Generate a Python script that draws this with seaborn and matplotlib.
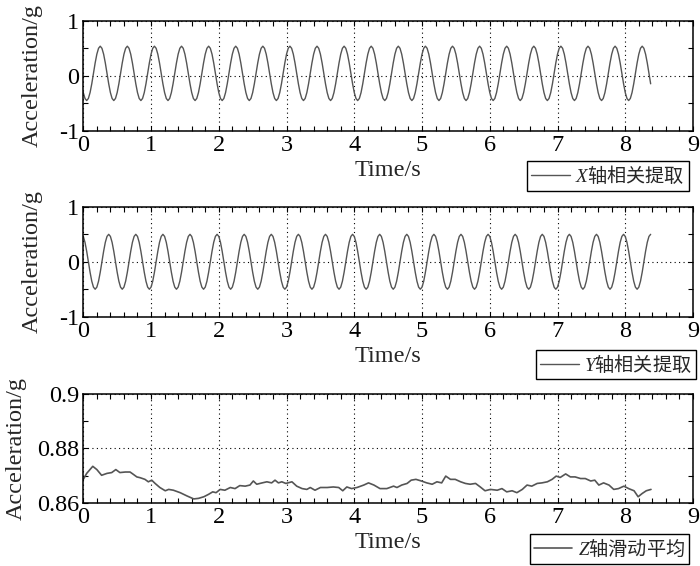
import numpy as np
import pandas as pd
import matplotlib
matplotlib.use("Agg")
import matplotlib.pyplot as plt
import seaborn as sns
from matplotlib.ticker import FixedLocator, MultipleLocator

# ---------------- data ----------------
sample_step = 0.025  # s, sampling interval of the two correlated signals

x_accel = [
    -0.305, -0.412, -0.450, -0.412, -0.305, -0.145, 0.045, 0.235, 0.395, 0.502, 0.540, 0.502, 0.395, 0.235, 0.045, -0.145,
    -0.305, -0.412, -0.450, -0.412, -0.305, -0.145, 0.045, 0.235, 0.395, 0.502, 0.540, 0.502, 0.395, 0.235, 0.045, -0.145,
    -0.305, -0.412, -0.450, -0.412, -0.305, -0.145, 0.045, 0.235, 0.395, 0.502, 0.540, 0.502, 0.395, 0.235, 0.045, -0.145,
    -0.305, -0.412, -0.450, -0.412, -0.305, -0.145, 0.045, 0.235, 0.395, 0.502, 0.540, 0.502, 0.395, 0.235, 0.045, -0.145,
    -0.305, -0.412, -0.450, -0.412, -0.305, -0.145, 0.045, 0.235, 0.395, 0.502, 0.540, 0.502, 0.395, 0.235, 0.045, -0.145,
    -0.305, -0.412, -0.450, -0.412, -0.305, -0.145, 0.045, 0.235, 0.395, 0.502, 0.540, 0.502, 0.395, 0.235, 0.045, -0.145,
    -0.305, -0.412, -0.450, -0.412, -0.305, -0.145, 0.045, 0.235, 0.395, 0.502, 0.540, 0.502, 0.395, 0.235, 0.045, -0.145,
    -0.305, -0.412, -0.450, -0.412, -0.305, -0.145, 0.045, 0.235, 0.395, 0.502, 0.540, 0.502, 0.395, 0.235, 0.045, -0.145,
    -0.305, -0.412, -0.450, -0.412, -0.305, -0.145, 0.045, 0.235, 0.395, 0.502, 0.540, 0.502, 0.395, 0.235, 0.045, -0.145,
    -0.305, -0.412, -0.450, -0.412, -0.305, -0.145, 0.045, 0.235, 0.395, 0.502, 0.540, 0.502, 0.395, 0.235, 0.045, -0.145,
    -0.305, -0.412, -0.450, -0.412, -0.305, -0.145, 0.045, 0.235, 0.395, 0.502, 0.540, 0.502, 0.395, 0.235, 0.045, -0.145,
    -0.305, -0.412, -0.450, -0.412, -0.305, -0.145, 0.045, 0.235, 0.395, 0.502, 0.540, 0.502, 0.395, 0.235, 0.045, -0.145,
    -0.305, -0.412, -0.450, -0.412, -0.305, -0.145, 0.045, 0.235, 0.395, 0.502, 0.540, 0.502, 0.395, 0.235, 0.045, -0.145,
    -0.305, -0.412, -0.450, -0.412, -0.305, -0.145, 0.045, 0.235, 0.395, 0.502, 0.540, 0.502, 0.395, 0.235, 0.045, -0.145,
    -0.305, -0.412, -0.450, -0.412, -0.305, -0.145, 0.045, 0.235, 0.395, 0.502, 0.540, 0.502, 0.395, 0.235, 0.045, -0.145,
    -0.305, -0.412, -0.450, -0.412, -0.305, -0.145, 0.045, 0.235, 0.395, 0.502, 0.540, 0.502, 0.395, 0.235, 0.045, -0.145,
    -0.305, -0.412, -0.450, -0.412, -0.305, -0.145, 0.045, 0.235, 0.395, 0.502, 0.540, 0.502, 0.395, 0.235, 0.045, -0.145,
    -0.305, -0.412, -0.450, -0.412, -0.305, -0.145, 0.045, 0.235, 0.395, 0.502, 0.540, 0.502, 0.395, 0.235, 0.045, -0.145,
    -0.305, -0.412, -0.450, -0.412, -0.305, -0.145, 0.045, 0.235, 0.395, 0.502, 0.540, 0.502, 0.395, 0.235, 0.045, -0.145,
    -0.305, -0.412, -0.450, -0.412, -0.305, -0.145, 0.045, 0.235, 0.395, 0.502, 0.540, 0.502, 0.395, 0.235, 0.045, -0.145,
    -0.305, -0.412, -0.450, -0.412, -0.305, -0.145, 0.045, 0.235, 0.395, 0.502, 0.540, 0.502, 0.395, 0.235, 0.045, -0.145,
]

y_accel = [
    0.462, 0.354, 0.191, 0.000, -0.191, -0.354, -0.462, -0.500, -0.462, -0.354, -0.191, 0.000, 0.191, 0.354, 0.462, 0.500,
    0.462, 0.354, 0.191, 0.000, -0.191, -0.354, -0.462, -0.500, -0.462, -0.354, -0.191, 0.000, 0.191, 0.354, 0.462, 0.500,
    0.462, 0.354, 0.191, 0.000, -0.191, -0.354, -0.462, -0.500, -0.462, -0.354, -0.191, 0.000, 0.191, 0.354, 0.462, 0.500,
    0.462, 0.354, 0.191, 0.000, -0.191, -0.354, -0.462, -0.500, -0.462, -0.354, -0.191, 0.000, 0.191, 0.354, 0.462, 0.500,
    0.462, 0.354, 0.191, 0.000, -0.191, -0.354, -0.462, -0.500, -0.462, -0.354, -0.191, 0.000, 0.191, 0.354, 0.462, 0.500,
    0.462, 0.354, 0.191, 0.000, -0.191, -0.354, -0.462, -0.500, -0.462, -0.354, -0.191, 0.000, 0.191, 0.354, 0.462, 0.500,
    0.462, 0.354, 0.191, 0.000, -0.191, -0.354, -0.462, -0.500, -0.462, -0.354, -0.191, 0.000, 0.191, 0.354, 0.462, 0.500,
    0.462, 0.354, 0.191, 0.000, -0.191, -0.354, -0.462, -0.500, -0.462, -0.354, -0.191, 0.000, 0.191, 0.354, 0.462, 0.500,
    0.462, 0.354, 0.191, 0.000, -0.191, -0.354, -0.462, -0.500, -0.462, -0.354, -0.191, 0.000, 0.191, 0.354, 0.462, 0.500,
    0.462, 0.354, 0.191, 0.000, -0.191, -0.354, -0.462, -0.500, -0.462, -0.354, -0.191, 0.000, 0.191, 0.354, 0.462, 0.500,
    0.462, 0.354, 0.191, 0.000, -0.191, -0.354, -0.462, -0.500, -0.462, -0.354, -0.191, 0.000, 0.191, 0.354, 0.462, 0.500,
    0.462, 0.354, 0.191, 0.000, -0.191, -0.354, -0.462, -0.500, -0.462, -0.354, -0.191, 0.000, 0.191, 0.354, 0.462, 0.500,
    0.462, 0.354, 0.191, 0.000, -0.191, -0.354, -0.462, -0.500, -0.462, -0.354, -0.191, 0.000, 0.191, 0.354, 0.462, 0.500,
    0.462, 0.354, 0.191, 0.000, -0.191, -0.354, -0.462, -0.500, -0.462, -0.354, -0.191, 0.000, 0.191, 0.354, 0.462, 0.500,
    0.462, 0.354, 0.191, 0.000, -0.191, -0.354, -0.462, -0.500, -0.462, -0.354, -0.191, 0.000, 0.191, 0.354, 0.462, 0.500,
    0.462, 0.354, 0.191, 0.000, -0.191, -0.354, -0.462, -0.500, -0.462, -0.354, -0.191, 0.000, 0.191, 0.354, 0.462, 0.500,
    0.462, 0.354, 0.191, 0.000, -0.191, -0.354, -0.462, -0.500, -0.462, -0.354, -0.191, 0.000, 0.191, 0.354, 0.462, 0.500,
    0.462, 0.354, 0.191, 0.000, -0.191, -0.354, -0.462, -0.500, -0.462, -0.354, -0.191, 0.000, 0.191, 0.354, 0.462, 0.500,
    0.462, 0.354, 0.191, 0.000, -0.191, -0.354, -0.462, -0.500, -0.462, -0.354, -0.191, 0.000, 0.191, 0.354, 0.462, 0.500,
    0.462, 0.354, 0.191, 0.000, -0.191, -0.354, -0.462, -0.500, -0.462, -0.354, -0.191, 0.000, 0.191, 0.354, 0.462, 0.500,
    0.462, 0.354, 0.191, 0.000, -0.191, -0.354, -0.462, -0.500, -0.462, -0.354, -0.191, 0.000, 0.191, 0.354, 0.462, 0.500,
]

z_time = [
    0.00, 0.05, 0.14, 0.20, 0.27, 0.35, 0.42, 0.48, 0.54, 0.62, 0.69, 0.73, 0.79, 0.84, 0.91, 0.96,
    1.01, 1.06, 1.13, 1.21, 1.26, 1.33, 1.43, 1.53, 1.63, 1.70, 1.78, 1.85, 1.91, 1.96,
    2.02, 2.09, 2.17, 2.24, 2.31, 2.39, 2.46, 2.51, 2.56, 2.64, 2.71, 2.78, 2.83, 2.88, 2.93, 2.99,
    3.08, 3.15, 3.23, 3.30, 3.35, 3.42, 3.50, 3.60, 3.69, 3.77, 3.83, 3.89, 3.96,
    4.04, 4.14, 4.21, 4.29, 4.38, 4.48, 4.58, 4.63, 4.70, 4.78, 4.84, 4.91, 4.99,
    5.07, 5.15, 5.22, 5.29, 5.35, 5.42, 5.49, 5.57, 5.64, 5.71, 5.79, 5.86, 5.93,
    6.01, 6.11, 6.18, 6.25, 6.33, 6.40, 6.48, 6.55, 6.62, 6.70, 6.77, 6.85, 6.92, 6.98,
    7.04, 7.12, 7.19, 7.26, 7.34, 7.41, 7.49, 7.55, 7.61, 7.68, 7.76, 7.83, 7.90, 7.98,
    8.05, 8.13, 8.19, 8.25, 8.31, 8.38,
]
z_accel = [
    0.8686, 0.8708, 0.8734, 0.8722, 0.8701, 0.8708, 0.8711, 0.8722, 0.8711, 0.8713, 0.8713, 0.8706, 0.8695, 0.8692, 0.8686, 0.8677,
    0.8683, 0.8671, 0.8656, 0.8644, 0.8649, 0.8646, 0.8637, 0.8625, 0.8614, 0.8616, 0.8622, 0.8631, 0.8640, 0.8637,
    0.8649, 0.8646, 0.8656, 0.8652, 0.8663, 0.8661, 0.8665, 0.8680, 0.8668, 0.8673, 0.8677, 0.8673, 0.8683, 0.8673, 0.8677, 0.8671,
    0.8677, 0.8661, 0.8652, 0.8649, 0.8656, 0.8646, 0.8656, 0.8656, 0.8658, 0.8656, 0.8644, 0.8658, 0.8652,
    0.8656, 0.8665, 0.8673, 0.8665, 0.8652, 0.8652, 0.8661, 0.8656, 0.8665, 0.8671, 0.8683, 0.8686, 0.8680,
    0.8673, 0.8668, 0.8677, 0.8673, 0.8698, 0.8686, 0.8686, 0.8677, 0.8671, 0.8668, 0.8671, 0.8658, 0.8644,
    0.8649, 0.8646, 0.8652, 0.8640, 0.8644, 0.8637, 0.8649, 0.8665, 0.8661, 0.8671, 0.8673, 0.8677, 0.8686, 0.8698,
    0.8693, 0.8706, 0.8695, 0.8695, 0.8689, 0.8689, 0.8680, 0.8683, 0.8665, 0.8673, 0.8665, 0.8649, 0.8652, 0.8661,
    0.8652, 0.8644, 0.8622, 0.8634, 0.8644, 0.8649,
]

series_labels = ["$X$轴相关提取", "$Y$轴相关提取", "$Z$轴滑动平均"]
x_ticks = [0, 1, 2, 3, 4, 5, 6, 7, 8, 9]
x_tick_labels = ["0", "1", "2", "3", "4", "5", "6", "7", "8", "9"]
xy_yticks = [-1, 0, 1]
xy_ytick_labels = ["-1", "0", "1"]
z_yticks = [0.86, 0.88, 0.9]
z_ytick_labels = ["0.86", "0.88", "0.9"]
x_label = "Time/s"
y_label = "Acceleration/g"

# ---------------- style ----------------
sns.set_style("ticks")
plt.rcParams["font.family"] = ["Liberation Serif", "Noto Sans CJK SC"]
plt.rcParams["mathtext.fontset"] = "custom"
plt.rcParams["mathtext.it"] = "Liberation Serif:italic"
plt.rcParams["mathtext.rm"] = "Liberation Serif"
plt.rcParams["axes.unicode_minus"] = False

LINE_COLOR = "#555555"
FS = 17.5

df_x = pd.DataFrame({"t": np.arange(len(x_accel)) * sample_step, "a": x_accel})
df_y = pd.DataFrame({"t": np.arange(len(y_accel)) * sample_step, "a": y_accel})
df_z = pd.DataFrame({"t": z_time, "a": z_accel})

fig = plt.figure(figsize=(7.0, 5.66), dpi=100)
ax_rects = [
    [0.119, 0.769, 0.871, 0.194],
    [0.119, 0.4405, 0.871, 0.194],
    [0.119, 0.1118, 0.871, 0.192],
]
frames = [df_x, df_y, df_z]
line_widths = [1.0, 1.0, 1.2]
legend_anchor = [(0.993, -0.275), (1.005, -0.30), (0.993, -0.29)]
ylabel_x = [-0.066, -0.066, -0.092]

for i, (rect, df) in enumerate(zip(ax_rects, frames)):
    ax = fig.add_axes(rect)
    sns.lineplot(data=df, x="t", y="a", ax=ax, color=LINE_COLOR, linewidth=line_widths[i],
                 estimator=None, label=series_labels[i])
    ax.set_xlim(0, 9)
    ax.xaxis.set_major_locator(FixedLocator(x_ticks))
    ax.set_xticklabels(x_tick_labels)
    ax.xaxis.set_minor_locator(MultipleLocator(0.2))
    if i < 2:
        ax.set_ylim(-1, 1)
        ax.yaxis.set_major_locator(FixedLocator(xy_yticks))
        ax.set_yticklabels(xy_ytick_labels)
        ax.yaxis.set_minor_locator(MultipleLocator(0.5))
    else:
        ax.set_ylim(0.86, 0.9)
        ax.yaxis.set_major_locator(FixedLocator(z_yticks))
        ax.set_yticklabels(z_ytick_labels)
        ax.yaxis.set_minor_locator(MultipleLocator(0.01))
    ax.grid(True, which="major", color="black", linestyle=(0, (1, 3)), linewidth=0.8)
    ax.set_axisbelow(True)
    ax.tick_params(which="both", direction="in", top=True, right=True,
                   length=3.5, width=0.8, labelsize=FS, pad=3, colors="black")
    for sp in ax.spines.values():
        sp.set_visible(True)
        sp.set_linewidth(1.1)
        sp.set_color("black")
    ax.set_xlabel(x_label, fontsize=FS, labelpad=3)
    ax.set_ylabel(y_label, fontsize=FS)
    ax.yaxis.set_label_coords(ylabel_x[i], 0.5)
    leg = ax.legend(loc="upper right", bbox_to_anchor=legend_anchor[i],
                    frameon=True, fancybox=False, framealpha=1, edgecolor="black",
                    borderpad=0.2, handlelength=2.0, handletextpad=0.3,
                    borderaxespad=0, prop={"family": "Noto Sans CJK SC", "size": 13.8})
    leg.get_frame().set_linewidth(1.0)

fig.savefig("out.png", dpi=100)
